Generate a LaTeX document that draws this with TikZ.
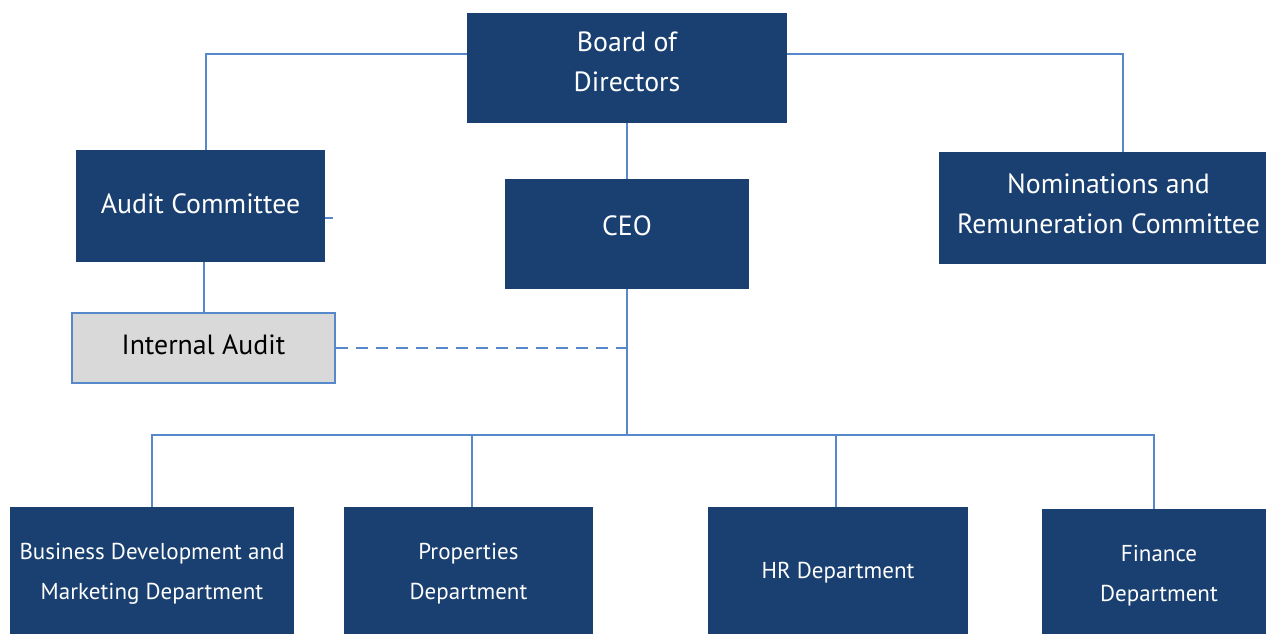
\documentclass[tikz,border=0pt]{standalone}
\usepackage{fontspec}
\setmainfont{PT Sans}
\definecolor{boxblue}{RGB}{25,64,112}
\definecolor{linkblue}{RGB}{88,136,204}
\definecolor{iagrey}{RGB}{217,217,217}
\begin{document}
\begin{tikzpicture}[x=1pt,y=-1pt,
  unit/.style={rectangle, fill=boxblue, inner sep=0pt},
  utext/.style={text=white, inner sep=0pt, align=center,
    font=\fontsize{27.8}{40}\selectfont},
  dtext/.style={utext, font=\fontsize{23}{40}\selectfont},
  link/.style={draw=linkblue, line width=1.2pt}]
\useasboundingbox (0,0) rectangle (1266,634);

% governance level
\node[unit, minimum width=320, minimum height=110] (board) at (627,68) {};
\node[utext] (board-t) at ([yshift=6.5pt]board.center) {Board of\\Directors};
\node[unit, minimum width=249, minimum height=112] (audit) at (200.5,206) {};
\node[utext] (audit-t) at ([yshift=2pt]audit.center) {Audit Committee};
\node[unit, minimum width=244, minimum height=110] (ceo) at (627,234) {};
\node[utext] (ceo-t) at ([yshift=8pt]ceo.center) {CEO};
\node[unit, minimum width=327, minimum height=112] (nrc) at (1102.5,208) {};
\node[utext] (nrc-t) at ([xshift=6pt,yshift=4.5pt]nrc.center) {Nominations and\\Remuneration Committee};
\node[rectangle, fill=iagrey, draw=linkblue, line width=2pt, inner sep=0pt,
  minimum width=263, minimum height=70] (ia) at (203.5,348) {};
\node[utext, text=black] (ia-t) at ([yshift=3pt]ia.center) {Internal Audit};

% departments
\node[unit, minimum width=284, minimum height=127] (bd) at (152,570.5) {};
\node[dtext] (bd-t) at ([yshift=-3pt]bd.center) {Business Development and\\Marketing Department};
\node[unit, minimum width=249, minimum height=127] (prop) at (468.5,570.5) {};
\node[dtext] (prop-t) at ([yshift=-3pt]prop.center) {Properties\\Department};
\node[unit, minimum width=260, minimum height=127] (hr) at (838,570.5) {};
\node[dtext] (hr-t) at ([yshift=-2pt]hr.center) {HR Department};
\node[unit, minimum width=224, minimum height=125] (fin) at (1154,571.5) {};
\node[dtext] (fin-t) at ([xshift=5pt,yshift=-4pt]fin.center) {Finance\\Department};

% reporting lines
\draw[link] ([yshift=14pt]board.west) -| ([xshift=5.5pt]audit.north);
\draw[link] ([yshift=14pt]board.east) -| ([xshift=20.5pt]nrc.north);
\draw[link] (board.south -| ceo.north) -- (ceo.north);
\draw[link] ([xshift=0.5pt]ia.north) -- ([xshift=0.5pt]ia.north |- audit.south);
\coordinate (stub) at (333,218);
\draw[link] (audit.east |- stub) -- (stub);
\draw[link, dash pattern=on 12pt off 8pt] (ia.east) -- (ia.east -| ceo.south);

\coordinate (bus) at (625,435);
\draw[link] (ceo.south) -- (ceo.south |- bus);
\draw[link] (bd.north) |- (fin.north |- bus) -- (fin.north);
\draw[link] ([xshift=3.5pt]prop.north) -- ([xshift=3.5pt]prop.north |- bus);
\draw[link] ([xshift=-2pt]hr.north) -- ([xshift=-2pt]hr.north |- bus);
\end{tikzpicture}
\end{document}
